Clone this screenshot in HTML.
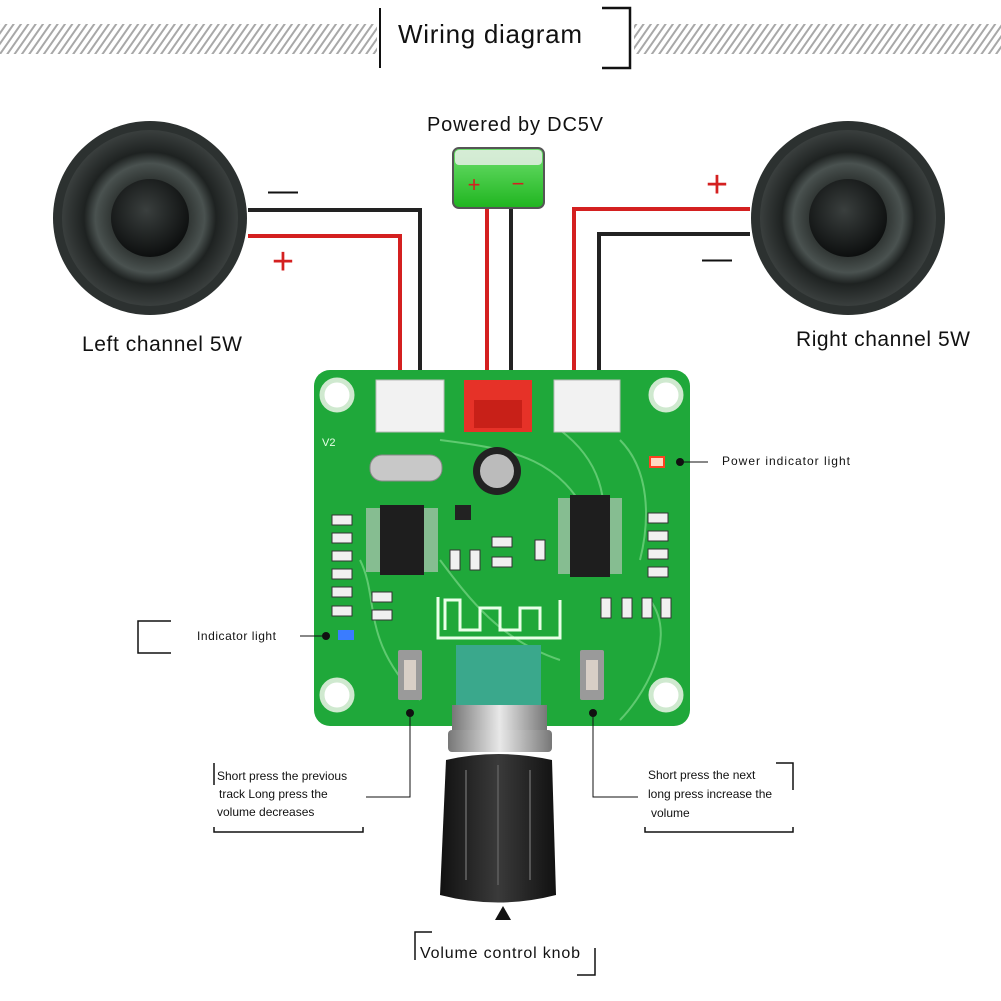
<!DOCTYPE html>
<html><head><meta charset="utf-8"><style>
html,body{margin:0;padding:0;background:#fff}
svg{display:block}
text{font-family:"Liberation Sans",sans-serif}
</style></head><body>
<svg width="1001" height="1001" viewBox="0 0 1001 1001" xmlns="http://www.w3.org/2000/svg">
<defs>
<pattern id="hatch" width="6" height="6" patternUnits="userSpaceOnUse" patternTransform="rotate(35)">
<rect width="6" height="6" fill="#fff"/><rect width="2" height="6" fill="#a8a8a8"/>
</pattern>
<radialGradient id="spk" cx="50%" cy="50%" r="50%">
<stop offset="0" stop-color="#1a1d1c"/><stop offset="0.4" stop-color="#2b302e"/><stop offset="0.62" stop-color="#4a5250"/><stop offset="0.75" stop-color="#1e2221"/><stop offset="1" stop-color="#3a3f3e"/>
</radialGradient>
<radialGradient id="dome" cx="45%" cy="40%" r="60%">
<stop offset="0" stop-color="#3a3f3e"/><stop offset="1" stop-color="#0d0f0f"/>
</radialGradient>
<linearGradient id="bat" x1="0" y1="0" x2="0" y2="1">
<stop offset="0" stop-color="#6fe06f"/><stop offset="1" stop-color="#1fb51f"/>
</linearGradient>
<linearGradient id="knob" x1="0" y1="0" x2="1" y2="0">
<stop offset="0" stop-color="#111"/><stop offset="0.5" stop-color="#3a3a3a"/><stop offset="1" stop-color="#111"/>
</linearGradient>
<linearGradient id="metal" x1="0" y1="0" x2="1" y2="0">
<stop offset="0" stop-color="#777"/><stop offset="0.5" stop-color="#e8e8e8"/><stop offset="1" stop-color="#777"/>
</linearGradient>
</defs>

<rect x="0" y="24" width="377" height="30" fill="url(#hatch)"/>
<rect x="634" y="24" width="367" height="30" fill="url(#hatch)"/>
<line x1="380" y1="8" x2="380" y2="68" stroke="#111" stroke-width="2"/>
<path d="M602 8 H630 V68 H602" fill="none" stroke="#111" stroke-width="2.5"/>
<text x="490" y="43" font-size="26" text-anchor="middle" fill="#111" textLength="184">Wiring diagram</text>

<text x="515" y="131" font-size="20" text-anchor="middle" fill="#111" textLength="176">Powered by DC5V</text>

<g fill="none" stroke-width="4">
<polyline points="248,210 420,210 420,395" stroke="#222"/>
<polyline points="248,236 400,236 400,395" stroke="#d42020"/>
<polyline points="487,205 487,395" stroke="#d42020"/>
<polyline points="511,205 511,395" stroke="#222"/>
<polyline points="750,209 574,209 574,395" stroke="#d42020"/>
<polyline points="750,234 599,234 599,395" stroke="#222"/>
</g>
<text x="283" y="200" font-size="30" text-anchor="middle" fill="#111">—</text>
<text x="283" y="274" font-size="38" text-anchor="middle" fill="#d42020">+</text>
<text x="717" y="197" font-size="38" text-anchor="middle" fill="#d42020">+</text>
<text x="717" y="268" font-size="30" text-anchor="middle" fill="#111">—</text>

<rect x="453" y="148" width="91" height="60" rx="6" fill="url(#bat)" stroke="#555" stroke-width="2"/>
<rect x="455" y="150" width="87" height="15" rx="4" fill="#f0f0f0" opacity="0.8"/>
<text x="474" y="192" font-size="22" text-anchor="middle" fill="#d42020">+</text>
<text x="518" y="191" font-size="22" text-anchor="middle" fill="#d42020">−</text>

<g>
<circle cx="150" cy="218" r="97" fill="#2c3130"/>
<circle cx="150" cy="218" r="88" fill="url(#spk)"/>
<circle cx="150" cy="218" r="39" fill="url(#dome)"/>
<circle cx="848" cy="218" r="97" fill="#2c3130"/>
<circle cx="848" cy="218" r="88" fill="url(#spk)"/>
<circle cx="848" cy="218" r="39" fill="url(#dome)"/>
</g>
<text x="162" y="351" font-size="21" text-anchor="middle" fill="#111" textLength="160">Left channel 5W</text>
<text x="883" y="346" font-size="21" text-anchor="middle" fill="#111" textLength="174">Right channel 5W</text>

<rect x="314" y="370" width="376" height="356" rx="16" fill="#1fa83a"/>
<g fill="none" stroke="#6fd27e" stroke-width="2" opacity="0.8">
<path d="M440 440 C520 450 560 460 590 520"/><path d="M560 430 C600 460 610 500 600 540"/>
<path d="M360 560 C380 600 360 640 420 700"/><path d="M440 560 C470 600 500 640 560 660"/>
<path d="M620 440 C650 470 650 520 640 560"/><path d="M650 600 C680 640 640 700 620 720"/>
</g>
<g fill="#fff" stroke="#cfe9cf" stroke-width="5">
<circle cx="337" cy="395" r="15"/><circle cx="666" cy="395" r="15"/>
<circle cx="337" cy="695" r="15"/><circle cx="666" cy="695" r="15"/>
</g>
<text x="322" y="446" font-size="11" fill="#e8ffe8">V2</text>
<rect x="376" y="380" width="68" height="52" fill="#f2f2f2" stroke="#bbb"/>
<rect x="464" y="380" width="68" height="52" fill="#e63228"/>
<rect x="474" y="400" width="48" height="28" fill="#c82018"/>
<rect x="554" y="380" width="66" height="52" fill="#f2f2f2" stroke="#bbb"/>
<rect x="370" y="455" width="72" height="26" rx="12" fill="#c8c8c8" stroke="#888"/>
<circle cx="497" cy="471" r="24" fill="#222"/><circle cx="497" cy="471" r="17" fill="#bbb"/>
<rect x="380" y="505" width="44" height="70" fill="#1e1e1e"/>
<rect x="570" y="495" width="40" height="82" fill="#1e1e1e"/>
<g fill="#ccc">
<rect x="366" y="508" width="14" height="64" opacity="0.6"/><rect x="424" y="508" width="14" height="64" opacity="0.6"/>
<rect x="558" y="498" width="12" height="76" opacity="0.6"/><rect x="610" y="498" width="12" height="76" opacity="0.6"/>
</g>
<rect x="455" y="505" width="16" height="15" fill="#222"/>
<g fill="#f0f0f0" stroke="#333" stroke-width="1">
<rect x="332" y="515" width="20" height="10"/><rect x="332" y="533" width="20" height="10"/><rect x="332" y="551" width="20" height="10"/>
<rect x="332" y="569" width="20" height="10"/><rect x="332" y="587" width="20" height="10"/><rect x="332" y="606" width="20" height="10"/>
<rect x="372" y="592" width="20" height="10"/><rect x="372" y="610" width="20" height="10"/>
<rect x="450" y="550" width="10" height="20"/><rect x="470" y="550" width="10" height="20"/>
<rect x="492" y="537" width="20" height="10"/><rect x="492" y="557" width="20" height="10"/><rect x="535" y="540" width="10" height="20"/>
<rect x="648" y="513" width="20" height="10"/><rect x="648" y="531" width="20" height="10"/><rect x="648" y="549" width="20" height="10"/><rect x="648" y="567" width="20" height="10"/>
<rect x="601" y="598" width="10" height="20"/><rect x="622" y="598" width="10" height="20"/><rect x="642" y="598" width="10" height="20"/><rect x="661" y="598" width="10" height="20"/>
</g>
<rect x="338" y="630" width="16" height="10" fill="#3a7cff"/>
<rect x="650" y="457" width="14" height="10" fill="#ffd8c0" stroke="#ff4020" stroke-width="2"/>
<path d="M438 597 V638 H560 V600 M445 630 V600 H460 V630 H480 V608 H500 V630 H520 V608 H540 V630" fill="none" stroke="#e8ffe8" stroke-width="3"/>
<rect x="398" y="650" width="24" height="50" rx="2" fill="#9a9a9a"/><rect x="404" y="660" width="12" height="30" fill="#d8cfc6"/>
<rect x="580" y="650" width="24" height="50" rx="2" fill="#9a9a9a"/><rect x="586" y="660" width="12" height="30" fill="#d8cfc6"/>
<rect x="456" y="645" width="85" height="62" fill="#3aa88c"/>
<rect x="452" y="705" width="95" height="26" fill="url(#metal)"/>
<rect x="448" y="730" width="104" height="22" rx="4" fill="url(#metal)"/>
<path d="M446 760 Q498 748 552 760 L556 895 Q498 910 440 895 Z" fill="url(#knob)"/>
<g stroke="#555" stroke-width="2"><line x1="466" y1="770" x2="466" y2="880"/><line x1="498" y1="765" x2="498" y2="885"/><line x1="530" y1="770" x2="530" y2="880"/></g>

<circle cx="680" cy="462" r="4" fill="#111"/>
<line x1="680" y1="462" x2="708" y2="462" stroke="#111"/>
<text x="722" y="465" font-size="12" fill="#111" textLength="128">Power indicator light</text>

<circle cx="326" cy="636" r="4" fill="#111"/>
<line x1="300" y1="636" x2="322" y2="636" stroke="#111"/>
<path d="M171 621 H138 V653 H171" fill="none" stroke="#111" stroke-width="1.5"/>
<text x="197" y="640" font-size="12" fill="#111" textLength="79">Indicator light</text>

<circle cx="410" cy="713" r="4" fill="#111"/><polyline points="410,713 410,797 366,797" fill="none" stroke="#111"/>
<circle cx="593" cy="713" r="4" fill="#111"/><polyline points="593,713 593,797 638,797" fill="none" stroke="#111"/>
<path d="M214 785 V763 M214 827 V832 H363 V827" fill="none" stroke="#111" stroke-width="1.5"/>
<text font-size="12" fill="#111"><tspan x="217" y="780">Short press the previous</tspan><tspan x="219" y="798">track Long press the</tspan><tspan x="217" y="816">volume decreases</tspan></text>
<path d="M776 763 H793 V790 M645 827 V832 H793 V827" fill="none" stroke="#111" stroke-width="1.5"/>
<text font-size="12" fill="#111"><tspan x="648" y="779">Short press the next</tspan><tspan x="648" y="798">long press increase the</tspan><tspan x="651" y="817">volume</tspan></text>

<polygon points="503,906 495,920 511,920" fill="#111"/>
<path d="M415 960 V932 H432 M595 948 V975 H577" fill="none" stroke="#111" stroke-width="1.5"/>
<text x="500" y="958" font-size="16" text-anchor="middle" fill="#111" textLength="160">Volume control knob</text>
</svg>
</body></html>
